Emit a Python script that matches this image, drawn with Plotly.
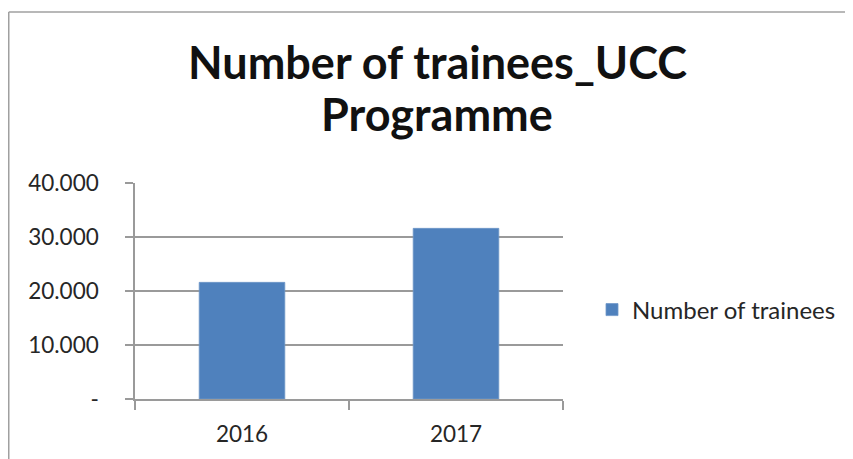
import plotly.graph_objects as go

years = ["2016", "2017"]
trainees = [21600, 31600]
y_tickvals = [0, 10000, 20000, 30000, 40000]
y_ticktext = ["-", "10.000", "20.000", "30.000", "40.000"]
title_lines = ["Number of trainees_UCC", "Programme"]

# page has an 8px body margin; build figure so that page coordinates match
OFF = 8
W, H = 853 - OFF, 459 - OFF
L, R, T, B = 135 - OFF, 853 - 563, 183 - OFF, 459 - 399
pw, ph = W - L - R, H - T - B

def px_x(x):
    return (x - OFF - L) / pw

def px_y(y):
    return 1 - (y - OFF - T) / ph

fig = go.Figure()
fig.add_trace(go.Bar(
    x=years, y=trainees, name="Number of trainees",
    marker=dict(color="#4F81BD", line=dict(color="#6f97c8", width=0.8)),
    width=0.4, showlegend=True,
))

grid = "#9a9a9a"
tickc = "#262626"
fig.update_layout(
    width=W, height=H,
    margin=dict(l=L, r=R, t=T, b=B, autoexpand=False),
    paper_bgcolor="white", plot_bgcolor="white",
    font=dict(family="Lato", color=tickc, size=22),
    showlegend=True,
    legend=dict(x=px_x(592), y=px_y(310), xanchor="left", yanchor="middle",
                font=dict(size=24, family="Lato", color=tickc),
                itemwidth=30, bgcolor="rgba(0,0,0,0)"),
    xaxis=dict(
        type="category", range=[-0.5, 1.5],
        showline=True, linecolor=grid, linewidth=1.5,
        ticks="outside", ticklen=9, tickcolor=grid, tickwidth=1.5,
        tickson="boundaries", showgrid=False,
        tickfont=dict(size=22.5, family="Lato", color=tickc),
        ticklabelstandoff=14,
    ),
    yaxis=dict(
        range=[0, 40000], tickvals=y_tickvals, ticktext=y_ticktext,
        showline=True, linecolor=grid, linewidth=1.5,
        ticks="outside", ticklen=8, tickcolor=grid, tickwidth=1.5,
        showgrid=True, gridcolor=grid, gridwidth=1.5,
        zeroline=False,
        tickfont=dict(size=22.5, family="Lato", color=tickc),
        ticklabelstandoff=22,
    ),
)

# title as two lines (tighter line spacing like the original)
for txt, yc in zip(title_lines, [62, 114]):
    fig.add_annotation(text="<b>%s</b>" % txt, xref="paper", yref="paper",
                       x=px_x(437), y=px_y(yc), xanchor="center", yanchor="middle",
                       showarrow=False,
                       font=dict(family="Lato", size=45, color="#111111"))

# chart frame (top and left edges visible)
fx0 = px_x(OFF + 0.75)
fy_top = px_y(12)
fig.add_shape(type="line", xref="paper", yref="paper",
              x0=fx0, x1=px_x(870), y0=fy_top, y1=fy_top,
              line=dict(color="#a0a0a0", width=1.5))
fig.add_shape(type="line", xref="paper", yref="paper",
              x0=fx0, x1=fx0, y0=fy_top, y1=px_y(470),
              line=dict(color="#a0a0a0", width=1.5))

fig.write_html("out.html")
